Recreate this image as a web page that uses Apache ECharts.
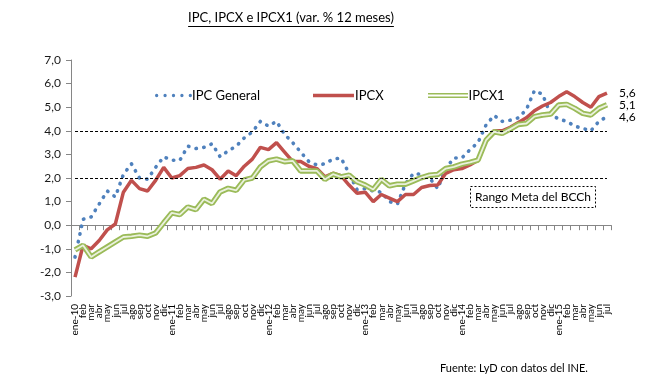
<!DOCTYPE html>
<html><head><meta charset="utf-8">
<script src="https://cdn.jsdelivr.net/npm/echarts@6/dist/echarts.min.js"></script>
<style>html,body{margin:0;padding:0;background:#fff}#c{width:651px;height:383px}</style>
</head><body><div id="c"></div>
<script>
const months = [
 'ene-10','feb','mar','abr','may','jun','jul','ago','sep','oct','nov','dic',
 'ene-11','feb','mar','abr','may','jun','jul','ago','sep','oct','nov','dic',
 'ene-12','feb','mar','abr','may','jun','jul','ago','sep','oct','nov','dic',
 'ene-13','feb','mar','abr','may','jun','jul','ago','sep','oct','nov','dic',
 'ene-14','feb','mar','abr','may','jun','jul','ago','sep','oct','nov','dic',
 'ene-15','feb','mar','abr','may','jun','jul'
];
const ipcGeneral = [
 -1.35, 0.25, 0.35, 0.9, 1.45, 1.2, 2.15, 2.6, 2.0, 1.95, 2.45, 2.9,
 2.75, 2.75, 3.35, 3.25, 3.3, 3.45, 2.9, 3.15, 3.35, 3.7, 3.95, 4.4,
 4.2, 4.4, 3.85, 3.5, 3.1, 2.7, 2.55, 2.6, 2.8, 2.85, 2.2, 1.5,
 1.55, 1.45, 1.4, 1.0, 0.9, 1.75, 2.2, 2.15, 2.0, 1.55, 2.4, 2.85,
 2.85, 3.2, 3.5, 4.25, 4.65, 4.4, 4.45, 4.55, 4.9, 5.7, 5.55, 4.7,
 4.5, 4.4, 4.2, 4.1, 4.0, 4.4, 4.6
];
const ipcx = [
 -2.2, -0.85, -1.0, -0.65, -0.2, 0.05, 1.4, 1.9, 1.55, 1.45, 1.9, 2.45,
 2.0, 2.1, 2.4, 2.45, 2.55, 2.35, 1.95, 2.3, 2.1, 2.5, 2.8, 3.3,
 3.2, 3.5, 3.1, 2.7, 2.7, 2.5, 2.4, 2.05, 2.2, 2.1, 1.7, 1.35,
 1.4, 1.0, 1.3, 1.15, 1.0, 1.3, 1.3, 1.6, 1.68, 1.7, 2.2, 2.35,
 2.4, 2.55, 2.75, 3.6, 4.0, 4.0, 4.15, 4.35, 4.55, 4.85, 5.05, 5.2,
 5.45, 5.65, 5.45, 5.2, 5.0, 5.45, 5.6
];
const ipcx1 = [
 -1.05, -0.85, -1.35, -1.13, -0.92, -0.71, -0.5, -0.47, -0.42, -0.47, -0.33, 0.1,
 0.52, 0.45, 0.77, 0.66, 1.1, 0.92, 1.41, 1.56, 1.48, 1.92, 2.0, 2.47,
 2.73, 2.8, 2.69, 2.73, 2.3, 2.3, 2.3, 1.94, 2.16, 2.05, 2.12, 1.84,
 1.7, 1.51, 1.94, 1.67, 1.74, 1.74, 1.88, 2.02, 2.12, 2.15, 2.4, 2.47,
 2.59, 2.66, 2.76, 3.6, 3.96, 3.89, 4.07, 4.27, 4.31, 4.6, 4.67, 4.71,
 5.09, 5.12, 4.95, 4.74, 4.67, 4.95, 5.1
];
const seriesNames = ['IPC General', 'IPCX', 'IPCX1'];
const targetLines = [4, 2];
const yMin = -3, yMax = 7, yStep = 1;
const titleText = 'IPC, IPCX e IPCX1 (var. % 12 meses)';
const sourceText = 'Fuente: LyD con datos del INE.';
const boxText = 'Rango Meta del BCCh';

const FONT = 'Lato, "Open Sans", sans-serif';
const fmt = v => Number(v).toFixed(1).replace('.', ',');

const cv = document.createElement('canvas').getContext('2d');
cv.font = '13px ' + FONT;
const tw = cv.measureText(titleText).width;
const tcx = 291;

const dotsPath = (() => {
  let p = 'path://';
  const r = 1.7, sp = 8.6;
  for (let k = 0; k < 5; k++) {
    const cx = r + k * sp;
    p += `M${cx - r},${r}A${r},${r},0,1,0,${cx + r},${r}A${r},${r},0,1,0,${cx - r},${r}Z`;
  }
  return p;
})();

const endLabel = {
  show: true, distance: 12, color: '#000', fontSize: 12, fontFamily: FONT,
  formatter: p => fmt(p.value)
};
const legText = pad => ({ fontSize: 13, color: '#000', fontFamily: FONT, padding: [0, 0, 0, pad] });

const chart = echarts.init(document.getElementById('c'));
chart.setOption({
  animation: false,
  backgroundColor: '#fff',
  textStyle: { fontFamily: FONT },
  grid: { left: 71, right: 40, top: 60, bottom: 87, containLabel: false },
  legend: [
    { data: [seriesNames[0]], left: 155, top: 89, padding: 0, icon: dotsPath, itemWidth: 37, itemHeight: 3.4,
      itemStyle: { borderWidth: 0 }, textStyle: legText(-5) },
    { data: [seriesNames[1]], left: 313, top: 89, padding: 0, icon: 'rect', itemWidth: 41, itemHeight: 3.5,
      itemStyle: { borderWidth: 0 }, textStyle: legText(-4) },
    { data: [seriesNames[2]], left: 428, top: 89, padding: 0, icon: 'path://M0,0H40V1.6H0ZM0,3.6H40V5.2H0Z', itemWidth: 41, itemHeight: 5.2,
      itemStyle: { borderWidth: 0 }, textStyle: legText(-5) }
  ],
  xAxis: [
    { type: 'category', data: months, boundaryGap: true,
      axisLine: { show: true, onZero: true, lineStyle: { color: '#868686', width: 1 } },
      axisTick: { show: true, length: 5, interval: 0, lineStyle: { color: '#868686' } },
      axisLabel: { show: false }, splitLine: { show: false } },
    { type: 'category', data: months, boundaryGap: true, position: 'bottom',
      axisLine: { show: false, onZero: false }, axisTick: { show: false },
      axisLabel: { show: true, interval: 0, rotate: 90, fontSize: 10, color: '#000', margin: 8, fontFamily: FONT },
      splitLine: { show: false } }
  ],
  yAxis: {
    type: 'value', min: yMin, max: yMax, interval: yStep,
    axisLine: { show: true, lineStyle: { color: '#868686', width: 1 } },
    axisTick: { show: true, length: 5, lineStyle: { color: '#868686' } },
    axisLabel: { formatter: v => fmt(v), fontSize: 12, color: '#1a1a1a', margin: 10, fontFamily: FONT },
    splitLine: { show: false }
  },
  series: [
    { name: seriesNames[0], type: 'line', data: ipcGeneral, xAxisIndex: 0, symbol: 'none', color: '#4f81bd',
      lineStyle: { width: 3.6, color: '#4f81bd', type: [0.4, 7.4], cap: 'round' },
      endLabel: endLabel, z: 2,
      markLine: { silent: true, symbol: ['none', 'none'], label: { show: false },
        lineStyle: { color: '#000', width: 1, type: [3, 2] },
        data: targetLines.map(v => [{ coord: [0, v] }, { coord: [months.length - 1, v] }]) } },
    { name: seriesNames[1], type: 'line', data: ipcx, xAxisIndex: 0, symbol: 'none', color: '#c0504d',
      lineStyle: { width: 3.5, color: '#c0504d' }, endLabel: endLabel, z: 3 },
    { name: seriesNames[2], type: 'line', data: ipcx1, xAxisIndex: 0, symbol: 'none', color: '#9bbb59',
      lineStyle: { width: 5.5, color: '#9bbb59' }, endLabel: endLabel, z: 4 },
    { name: 'IPCX1-inner', type: 'line', data: ipcx1, xAxisIndex: 0, symbol: 'none', color: '#eaf1dd',
      lineStyle: { width: 1.8, color: '#eaf1dd' }, z: 5, silent: true }
  ],
  graphic: [
    { type: 'text', left: tcx - tw / 2, top: 11, style: { text: titleText, font: '13px ' + FONT, fill: '#000' } },
    { type: 'line', shape: { x1: tcx - tw / 2, y1: 26.5, x2: tcx + tw / 2, y2: 26.5 }, style: { stroke: '#000', lineWidth: 1 } },
    { type: 'rect', shape: { x: 470.5, y: 186.5, width: 125, height: 21 },
      style: { fill: '#fff', stroke: '#000', lineWidth: 1, lineDash: [2, 2] }, z: 10 },
    { type: 'text', x: 533, y: 197, style: { text: boxText, font: '12px ' + FONT, fill: '#000', textAlign: 'center', textVerticalAlign: 'middle' }, z: 11 },
    { type: 'text', x: 440, y: 368, style: { text: sourceText, font: '11px ' + FONT, fill: '#000', textVerticalAlign: 'middle' } }
  ]
});
</script>
</body></html>
